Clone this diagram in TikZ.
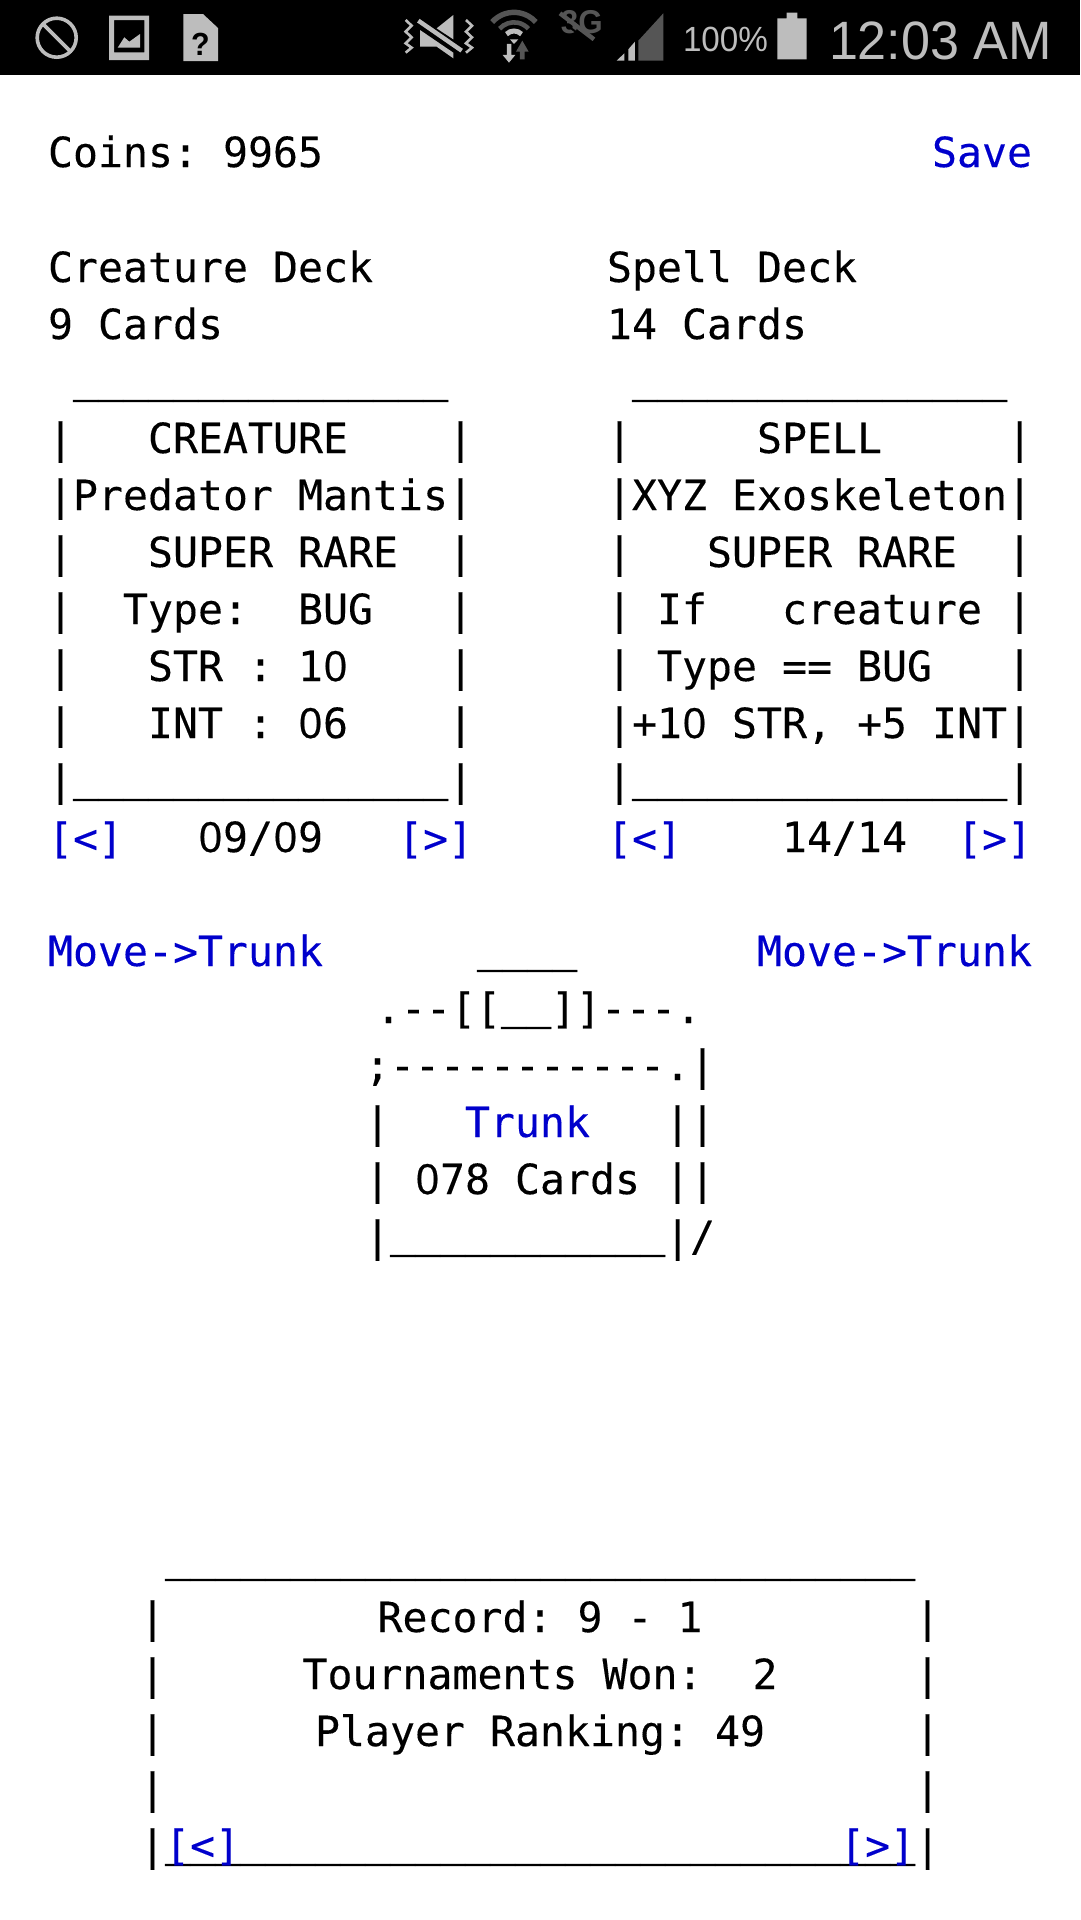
\documentclass[tikz,border=0pt]{standalone}
\usepackage{fontspec}
\newfontfamily\cardfont[FakeBold=0.2]{DejaVu Sans Mono}
\newfontfamily\ulfont[FakeBold=1.2]{DejaVu Sans Mono}
\newfontfamily\zerofont[FakeBold=0.6]{Open Sans}
\newfontfamily\statusfont[FakeStretch=0.95]{Liberation Sans}
\newfontfamily\clockfont[FakeStretch=0.965]{Liberation Sans}
\definecolor{linkblue}{HTML}{0000CC}
\definecolor{statlight}{HTML}{BDBDBD}
\definecolor{statdark}{HTML}{555555}
\newcommand\Zr{\makebox[25pt][c]{\zerofont 0}}
\newcommand\UL[1]{\raisebox{4pt}{\ulfont\foreach \k in {1,...,#1}{\_}}}
\tikzset{
  txt/.style={anchor=base west,inner sep=0pt,outer sep=0pt,font=\cardfont\fontsize{41.53}{57}\selectfont\frenchspacing,text=black},
  lnk/.style={txt,text=linkblue},
  stat/.style={anchor=base west,inner sep=0pt,outer sep=0pt,text=statlight},
}
\begin{document}
\begin{tikzpicture}[x=1pt,y=-1pt]
\path[use as bounding box,fill=white] (0,0) rectangle (1080,1920);
\fill[black] (0,0) rectangle (1080,75);
% status bar, left icons
\draw[statlight,line width=3.6pt] (56.7,37.7) circle (19.5);
\draw[statlight,line width=3.6pt] (43,24) -- (70.5,51.5);
\fill[statlight,even odd rule] (109,15.7) rectangle (149,60) (114,20) rectangle (144.3,52.3);
\fill[statlight] (117.7,47.7) -- (124.3,37.3) -- (129.3,41.7) -- (140,34) -- (140,47.7) -- cycle;
\fill[statlight] (183.3,14) -- (203,14) -- (218,28) -- (218,61) -- (183.3,61) -- cycle;
\node[stat,text=black,font=\statusfont\bfseries\fontsize{32}{32}\selectfont] (simmark) at (191,55) {?};
% status bar, mute / wifi / 3G / signal
\begin{scope}[shift={(390,0)},x=0.3333pt,y=-0.3333pt]
  \fill[statlight] (90,90) -- (90,140) -- (140,140) -- (190,175) -- (190,158) -- cycle;
  \fill[statlight] (140,85) -- (190,45) -- (190,118) -- cycle;
  \draw[statlight,line width=4.4pt] (85,62) -- (215,152);
  \draw[statlight,line width=2.6pt] (47,60) -- (65,77) -- (47,95) -- (65,112) -- (47,130) -- (65,143) -- (47,158);
  \draw[statlight,line width=2.6pt] (228,60) -- (246,77) -- (228,95) -- (246,112) -- (228,130) -- (246,143) -- (228,158);
  \draw[statdark,line width=5.4pt] (372,125) ++(-138:88) arc (-138:-42:88);
  \draw[statdark,line width=4.6pt] (372,125) ++(-138:58) arc (-138:-42:58);
  \draw[statlight,line width=5pt] (372,125) ++(-135:32) arc (-135:-45:32);
  \fill[statlight] (360,118) -- (385,118) -- (372,132) -- cycle;
  \fill[statlight] (351,132) -- (364,132) -- (364,165) -- (376,165) -- (357,188) -- (338,165) -- (351,165) -- cycle;
  \fill[statdark] (397,122) -- (416,155) -- (404,155) -- (404,178) -- (390,178) -- (390,155) -- (378,155) -- cycle;
  \node[stat,text=statdark,font=\statusfont\bfseries\fontsize{33}{33}\selectfont] (threeg) at (513,101) {3G};
  \draw[black,line width=2pt] (503,54) -- (600,128);
  \draw[statdark,line width=4.4pt] (510,40) -- (612,118);
  \fill[statlight] (680,182) -- (703,160) -- (703,182) -- cycle;
  \fill[statlight] (715,182) -- (715,148) -- (735,125) -- (735,182) -- cycle;
  \fill[statdark] (745,182) -- (745,122) -- (820,40) -- (820,182) -- cycle;
\end{scope}
\node[stat,font=\statusfont\fontsize{35}{35}\selectfont] (battery) at (683,51.7) {100\%};
\fill[statlight] (777.3,18.3) rectangle (806.7,59.3) (786.7,12.7) rectangle (797.3,18.3);
\node[stat,font=\clockfont\fontsize{54}{54}\selectfont] (clock) at (829,59.3) {12:03 AM};
% header
\node[txt] (coins) at (48,167) {Coins: 9965};
\node[lnk] (save) at (932,167) {Save};
\node[txt] (creaturedeck) at (48,282) {Creature Deck};
\node[txt] (creaturecount) at (48,339) {9 Cards};
\node[txt] (spelldeck) at (607,282) {Spell Deck};
\node[txt] (spellcount) at (607,339) {14 Cards};
% creature card
\node[txt] (ca) at (48,396) {~\UL{15}};
\node[txt] (cb) at (48,453) {|~~~CREATURE~~~~|};
\node[txt] (cc) at (48,510) {|Predator Mantis|};
\node[txt] (cd) at (48,567) {|~~~SUPER RARE~~|};
\node[txt] (ce) at (48,624) {|~~Type:~~BUG~~~|};
\node[txt] (cf) at (48,681) {|~~~STR : 1\Zr~~~~|};
\node[txt] (cg) at (48,738) {|~~~INT : \Zr6~~~~|};
\node[txt] (ch) at (48,795) {|\UL{15}|};
\node[lnk] (cprev) at (48,853) {[<]};
\node[txt] (cpage) at (198,852) {\Zr9/\Zr9};
\node[lnk] (cnext) at (398,853) {[>]};
% spell card
\node[txt] (sa) at (607,396) {~\UL{15}};
\node[txt] (sb) at (607,453) {|~~~~~SPELL~~~~~|};
\node[txt] (sc) at (607,510) {|XYZ Exoskeleton|};
\node[txt] (sd) at (607,567) {|~~~SUPER RARE~~|};
\node[txt] (se) at (607,624) {|~If~~~creature~|};
\node[txt] (sf) at (607,681) {|~Type == BUG~~~|};
\node[txt] (sg) at (607,738) {|+1\Zr{} STR, +5 INT|};
\node[txt] (sh) at (607,795) {|\UL{15}|};
\node[lnk] (sprev) at (607,853) {[<]};
\node[txt] (spage) at (782,852) {14/14};
\node[lnk] (snext) at (957,853) {[>]};
% move links and trunk
\node[lnk] (moveleft) at (48,966) {Move->Trunk};
\node[lnk] (moveright) at (757,966) {Move->Trunk};
\node[txt] (ta) at (477,966) {\UL{4}};
\node[txt] (tb) at (376,1023) {.--[[\UL{2}]]---.};
\node[txt] (tc) at (365,1080) {;-----------.|};
\node[txt] (td) at (365,1137) {|};
\node[lnk] (trunk) at (465,1137) {Trunk};
\node[txt] (te) at (665,1137) {||};
\node[txt] (tf) at (365,1194) {|~\Zr78 Cards~||};
\node[txt] (tg) at (365,1251) {|\UL{11}|/};
% record panel
\node[txt] (ra) at (140,1575) {~\UL{30}};
\node[txt] (rbl) at (140,1632) {|};
\node[txt] (rbr) at (915,1632) {|};
\node[txt] (rb) at (377.5,1632) {Record: 9 - 1};
\node[txt] (rcl) at (140,1689) {|};
\node[txt] (rcr) at (915,1689) {|};
\node[txt] (rc) at (302.5,1689) {Tournaments Won:~~2};
\node[txt] (rdl) at (140,1746) {|};
\node[txt] (rdr) at (915,1746) {|};
\node[txt] (rd) at (315,1746) {Player Ranking: 49};
\node[txt] (rel) at (140,1803) {|};
\node[txt] (rer) at (915,1803) {|};
\node[txt] (rf) at (140,1860) {|\UL{30}|};
\node[lnk] (rprev) at (165,1860) {[<]};
\node[lnk] (rnext) at (840,1860) {[>]};
\end{tikzpicture}
\end{document}
